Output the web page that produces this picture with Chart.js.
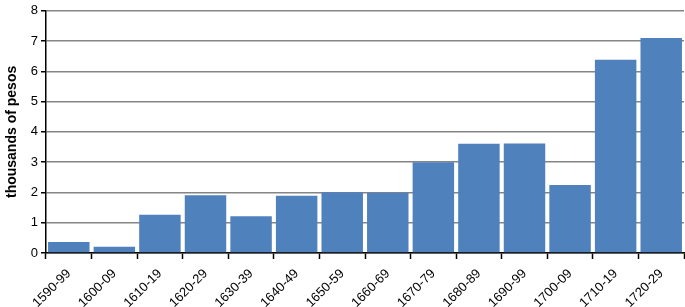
<!DOCTYPE html>
<html>
<head>
<meta charset="utf-8">
<script src="https://cdn.jsdelivr.net/npm/chart.js@4/dist/chart.umd.min.js"></script>
<style>
  html, body { margin: 0; padding: 0; background: #fff; }
  #wrap { width: 685px; height: 307px; position: relative; }
</style>
</head>
<body>
<div id="wrap"><canvas id="bar-chart"></canvas></div>
<script>
const decades = [
  "1590-99", "1600-09", "1610-19", "1620-29", "1630-39", "1640-49", "1650-59",
  "1660-69", "1670-79", "1680-89", "1690-99", "1700-09", "1710-19", "1720-29",
];
const pesos = [0.36, 0.21, 1.26, 1.91, 1.21, 1.89, 2.01, 1.99, 3.0, 3.61, 3.62, 2.25, 6.38, 7.1];
const yTicks = [0, 1, 2, 3, 4, 5, 6, 7, 8];

let config = {
  type: "bar",
  data: {
    labels: decades,
    datasets: [
      {
        label: "thousands of pesos",
        backgroundColor: "#4f81bd",
        data: pesos,
        barPercentage: 0.91,
        categoryPercentage: 1,
      },
    ],
  },
  options: {
    responsive: true,
    maintainAspectRatio: false,
    animation: false,
    layout: { padding: { top: 7, right: 1, left: 0, bottom: 0 } },
    plugins: {
      legend: { display: false },
      tooltip: { enabled: false },
    },
    scales: {
      x: {
        offset: true,
        grid: {
          offset: true,
          drawOnChartArea: false,
          drawTicks: true,
          tickLength: 6,
          tickColor: "#000",
          tickWidth: 1.5,
        },
        border: { color: "#000", width: 1.5 },
        ticks: {
          color: "#000",
          font: { family: "'Liberation Sans', Arial", size: 13 },
          minRotation: 45,
          maxRotation: 45,
          autoSkip: false,
          padding: 7,
        },
        afterFit: (scale) => { scale.height = 54; },
      },
      y: {
        min: 0,
        max: 8,
        afterBuildTicks: (scale) => { scale.ticks = yTicks.map((v) => ({ value: v })); },
        grid: {
          color: "#858585",
          lineWidth: 1.5,
          tickLength: 5,
          tickColor: "#000",
          tickWidth: 1.5,
        },
        border: { color: "#000", width: 1.5 },
        ticks: {
          color: "#000",
          font: { family: "'Liberation Sans', Arial", size: 13 },
          padding: 3,
        },
        title: {
          display: true,
          text: "thousands of pesos",
          color: "#000",
          font: { family: "'Liberation Sans', Arial", size: 14, weight: "bold" },
          padding: { top: 4, bottom: 0 },
        },
        afterFit: (scale) => { scale.width = 46; },
      },
    },
  },
};
let ctx = document.getElementById("bar-chart").getContext("2d");
new Chart(ctx, config);
</script>
</body>
</html>
